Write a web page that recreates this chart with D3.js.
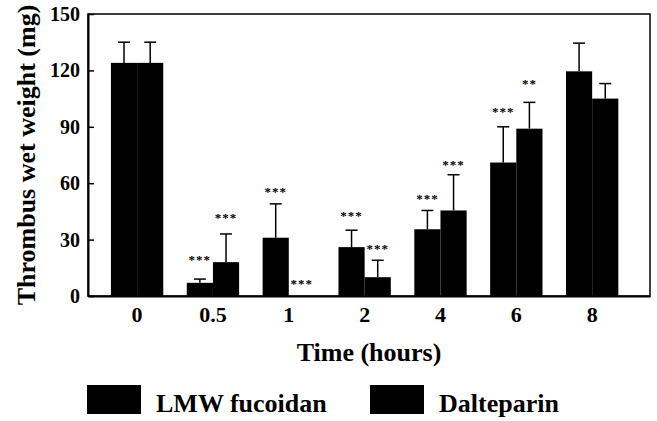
<!DOCTYPE html>
<html>
<head>
<meta charset="utf-8">
<script src="https://cdn.jsdelivr.net/npm/d3@7"></script>
<style>
  body { margin: 0; background: #fff; }
  svg text { font-family: "Liberation Serif", "Times New Roman", serif; font-weight: bold; fill: #000; }
</style>
</head>
<body>
<div id="viz"></div>
<script>
// data (mg)
const times = ['0', '0.5', '1', '2', '4', '6', '8'];
const lmw = [124, 7, 31, 26, 35.5, 71, 119.5];
const lmwErr = [11, 2, 18, 9, 10, 19, 15];
const dal = [124, 18, 0, 10, 45.5, 89, 105];
const dalErr = [11, 15, 0, 9, 19, 14, 8];
const lmwSig = ['', '***', '***', '***', '***', '***', ''];
const dalSig = ['', '***', '***', '***', '***', '**', ''];
// level (mg) where each significance mark sits
const lmwSigAt = [0, 20, 56.5, 43.5, 52.5, 99, 0];
const dalSigAt = [0, 42.5, 7.5, 26, 70.5, 114, 0];
const yTicks = [0, 30, 60, 90, 120, 150];
const seriesNames = ['LMW fucoidan', 'Dalteparin'];

const width = 657;
const height = 421;
const margin = { top: 14, right: 7, bottom: 125, left: 88 };
const plotW = width - margin.left - margin.right;
const plotH = height - margin.top - margin.bottom;

const svg = d3.select('#viz')
              .append('svg')
              .attr('width', width)
              .attr('height', height);

const g = svg.append('g')
             .attr('transform', 'translate(' + margin.left + ',' + margin.top + ')');

const xScale = d3.scaleBand().domain(times).range([0, plotW])
                 .paddingInner(0.31).paddingOuter(0.36).align(0.42);
const sub = d3.scaleBand().domain([0, 1]).range([0, xScale.bandwidth()]);
const yScale = d3.scaleLinear().domain([0, 150]).range([plotH, 0]);

// frame
g.append('rect')
 .attr('x', 0).attr('y', 0)
 .attr('width', plotW).attr('height', plotH)
 .attr('fill', 'none').attr('stroke', '#000').attr('stroke-width', 1.5);

const rows = times.map((t, i) => ({
    t: t,
    vals: [
        { s: 0, v: lmw[i], e: lmwErr[i], sig: lmwSig[i], at: lmwSigAt[i] },
        { s: 1, v: dal[i], e: dalErr[i], sig: dalSig[i], at: dalSigAt[i] }
    ]
}));

const groups = g.selectAll('.grp')
                .data(rows)
                .enter()
                .append('g')
                .attr('transform', d => 'translate(' + xScale(d.t) + ',0)');

const cells = groups.selectAll('.cell')
                    .data(d => d.vals)
                    .enter();

// error bars (upward only)
cells.filter(d => d.e > 0)
     .append('line')
     .attr('x1', d => sub(d.s) + sub.bandwidth() / 2)
     .attr('x2', d => sub(d.s) + sub.bandwidth() / 2)
     .attr('y1', d => yScale(d.v))
     .attr('y2', d => yScale(d.v + d.e))
     .attr('stroke', '#000').attr('stroke-width', 1.5);
cells.filter(d => d.e > 0)
     .append('line')
     .attr('x1', d => sub(d.s) + sub.bandwidth() / 2 - 6)
     .attr('x2', d => sub(d.s) + sub.bandwidth() / 2 + 6)
     .attr('y1', d => yScale(d.v + d.e))
     .attr('y2', d => yScale(d.v + d.e))
     .attr('stroke', '#000').attr('stroke-width', 1.5);

cells.append('rect')
     .attr('x', d => sub(d.s))
     .attr('y', d => yScale(d.v))
     .attr('width', sub.bandwidth())
     .attr('height', d => plotH - yScale(d.v))
     .attr('fill', '#000');

cells.filter(d => d.sig !== '')
     .append('text')
     .attr('x', d => sub(d.s) + sub.bandwidth() / 2)
     .attr('y', d => yScale(d.at) + 6)
     .attr('text-anchor', 'middle')
     .style('font-size', '13px')
     .style('letter-spacing', '1px')
     .text(d => d.sig);

// axes
const yAxis = d3.axisLeft(yScale).tickValues(yTicks).tickSize(-6).tickPadding(8).tickSizeOuter(0);
g.append('g')
 .call(yAxis)
 .call(a => a.select('.domain').attr('stroke-width', 2))
 .call(a => a.selectAll('.tick line').attr('stroke-width', 1.5))
 .call(a => a.selectAll('text').style('font-size', '20px'));

const xAxis = d3.axisBottom(xScale).tickSize(0).tickPadding(10);
g.append('g')
 .attr('transform', 'translate(0,' + plotH + ')')
 .call(xAxis)
 .call(a => a.select('.domain').attr('stroke-width', 2))
 .call(a => a.selectAll('text').style('font-size', '22px'));

// titles
svg.append('text')
   .attr('transform', 'translate(35,' + (margin.top + plotH / 2) + ') rotate(-90)')
   .attr('text-anchor', 'middle')
   .style('font-size', '26px')
   .text('Thrombus wet weight (mg)');

svg.append('text')
   .attr('x', margin.left + plotW / 2)
   .attr('y', 361)
   .attr('text-anchor', 'middle')
   .style('font-size', '26px')
   .text('Time (hours)');

// legend
const legend = svg.append('g').attr('transform', 'translate(87,385)');
const items = legend.selectAll('g')
                    .data(seriesNames)
                    .enter()
                    .append('g')
                    .attr('transform', (d, i) => 'translate(' + (i * 283) + ',0)');
items.append('rect')
     .attr('width', 54).attr('height', 29)
     .attr('fill', '#000');
items.append('text')
     .attr('x', 69).attr('y', 27)
     .style('font-size', '26px')
     .text(d => d);
</script>
</body>
</html>
